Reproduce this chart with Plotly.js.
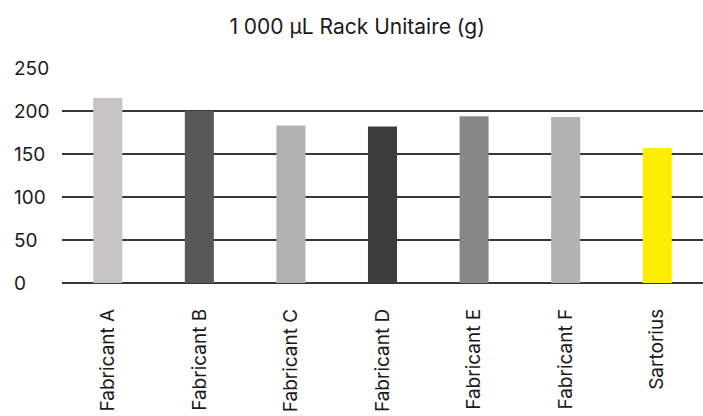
<!DOCTYPE html>
<html>
<head>
<meta charset="utf-8">
<script src="https://cdn.plot.ly/plotly-3.0.1.min.js"></script>
<style>html,body{margin:0;padding:0;background:#fff;}#chart{width:703px;height:416px;}</style>
</head>
<body>
<div id="chart"></div>
<script>
var categories = ["Fabricant A", "Fabricant B", "Fabricant C", "Fabricant D", "Fabricant E", "Fabricant F", "Sartorius"];
var weights = [215, 200, 183, 182, 194, 193, 157];
var barColors = ["#c6c5c3", "#575857", "#b2b2b2", "#3b3c3b", "#878787", "#b2b2b2", "#ffed00"];
var yTicks = [0, 50, 100, 150, 200, 250];
var titleText = "1 000 µL Rack Unitaire (g)";

var FONT = "Inter, 'Open Sans', sans-serif";

var trace = {
  type: "bar",
  x: categories,
  y: weights,
  width: 0.317,
  marker: {color: barColors, line: {width: 0}},
  hoverinfo: "none"
};

var annotations = yTicks.map(function (v) {
  return {
    xref: "paper", yref: "y",
    x: -0.078, y: v,
    xanchor: "left", yanchor: "middle",
    text: String(v),
    showarrow: false,
    font: {family: FONT, size: 19, color: "#1a1a1a"}
  };
});

var layout = {
  width: 703,
  height: 416,
  paper_bgcolor: "#ffffff",
  plot_bgcolor: "#ffffff",
  margin: {l: 62, r: 0, t: 68, b: 133, autoexpand: false},
  showlegend: false,
  title: {
    text: titleText,
    x: 0.508, xanchor: "center", xref: "container",
    y: 0.937, yanchor: "middle", yref: "container",
    font: {family: FONT, size: 21, color: "#1a1a1a"}
  },
  xaxis: {
    type: "category",
    range: [-0.5, 6.5],
    showgrid: false,
    zeroline: false,
    showline: false,
    tickangle: -90,
    ticks: "",
    ticklabelstandoff: 21,
    tickfont: {family: FONT, size: 19, color: "#1a1a1a"},
    fixedrange: true
  },
  yaxis: {
    range: [0, 250],
    tickvals: yTicks,
    showticklabels: false,
    showgrid: true,
    gridcolor: "#383838",
    gridwidth: 2,
    zeroline: true,
    zerolinecolor: "#383838",
    zerolinewidth: 2,
    showline: false,
    ticks: "",
    fixedrange: true
  },
  annotations: annotations
};

Plotly.newPlot("chart", [trace], layout, {staticPlot: true, displayModeBar: false});
</script>
</body>
</html>
